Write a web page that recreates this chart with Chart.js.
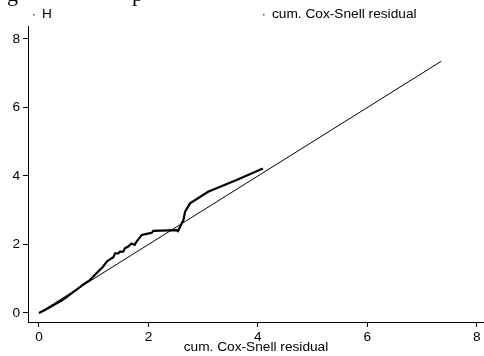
<!DOCTYPE html>
<html lang="en">
<head>
  <meta charset="UTF-8">
  <title>Cox-Snell residuals</title>
  <script src="https://cdn.jsdelivr.net/npm/chart.js"></script>
  <style>
    body { margin: 0; background: #fff; }
    .wrap { width: 484px; height: 356px; position: relative; }
  </style>
</head>
<body>
  <div class="wrap">
    <canvas id="residChart" width="484" height="356"></canvas>
  </div>
  <script>
    // Nelson-Aalen cumulative hazard of the residuals
    const hX = [0, 0.1, 0.2, 0.3, 0.4, 0.5, 0.6, 0.7, 0.8, 0.93, 1.05, 1.17, 1.24, 1.30, 1.36, 1.39, 1.45,
      1.48, 1.54, 1.57, 1.63, 1.69, 1.75, 1.78, 1.88, 1.97, 2.06, 2.09, 2.51, 2.54, 2.64, 2.67, 2.76,
      3.09, 3.61, 4.09];
    const hY = [0, 0.08, 0.17, 0.26, 0.35, 0.46, 0.58, 0.70, 0.82, 0.96, 1.16, 1.35, 1.50, 1.57, 1.63, 1.74, 1.74,
      1.79, 1.79, 1.89, 1.94, 2.03, 1.99, 2.08, 2.28, 2.31, 2.34, 2.40, 2.42, 2.39, 2.72, 2.96, 3.20,
      3.54, 3.88, 4.22];

    // 45 degree reference line
    const csX = [0, 7.35];
    const csY = [0, 7.35];

    const xTicks = [0, 2, 4, 6, 8];
    const yTicks = [0, 2, 4, 6, 8];

    const seriesNames = ['H', 'cum. Cox-Snell residual'];
    const xTitle = 'cum. Cox-Snell residual';

    const FONT = { family: '"Liberation Sans", Arial, sans-serif', size: 13.7 };

    const toPts = (xs, ys) => xs.map((x, i) => ({ x: x, y: ys[i] }));

    // two-column legend above the plot, plus the cut-off caption line at the very top
    const topText = {
      id: 'topText',
      afterDraw(chart) {
        const ctx = chart.ctx;
        ctx.save();
        ctx.fillStyle = '#000';
        ctx.font = '22px "Liberation Serif", "Times New Roman", serif';
        ctx.textBaseline = 'alphabetic';
        ctx.fillText('g', 7, 0.5);
        ctx.fillText('p', 132, 0.5);

        ctx.font = FONT.size + 'px ' + FONT.family;
        ctx.textBaseline = 'middle';
        const cols = [33, 263];
        chart.data.datasets.forEach((ds, i) => {
          ctx.fillStyle = '#555';
          ctx.fillRect(cols[i], 14, 1.5, 1.5);
          ctx.fillStyle = '#000';
          ctx.fillText(ds.label, cols[i] + 9, 14);
        });
        ctx.restore();
      }
    };

    new Chart(document.getElementById('residChart'), {
      type: 'scatter',
      data: {
        datasets: [
          {
            label: seriesNames[0],
            data: toPts(hX, hY),
            showLine: true,
            borderColor: '#000',
            borderWidth: 2.2,
            pointRadius: 0,
            tension: 0
          },
          {
            label: seriesNames[1],
            data: toPts(csX, csY),
            showLine: true,
            borderColor: '#000',
            borderWidth: 1,
            pointRadius: 0,
            tension: 0
          }
        ]
      },
      options: {
        responsive: false,
        animation: false,
        layout: { padding: { top: 26, right: 0, left: 0, bottom: 0 } },
        plugins: {
          legend: { display: false },
          tooltip: { enabled: false }
        },
        scales: {
          x: {
            type: 'linear',
            min: -0.2,
            max: 8.13,
            afterBuildTicks: s => { s.ticks = xTicks.map(v => ({ value: v })); },
            afterFit: s => { s.height = 34; },
            ticks: { color: '#000', font: FONT, padding: 2, maxRotation: 0, autoSkip: false },
            grid: { drawOnChartArea: false, drawTicks: true, tickLength: 5, color: '#000', tickColor: '#000' },
            border: { color: '#000', width: 1 },
            title: { display: true, text: xTitle, color: '#000', font: FONT, padding: { top: 0, bottom: 1 } }
          },
          y: {
            type: 'linear',
            min: -0.263,
            max: 8.379,
            afterBuildTicks: s => { s.ticks = yTicks.map(v => ({ value: v })); },
            afterFit: s => { s.width = 28; },
            ticks: { color: '#000', font: FONT, padding: 3, autoSkip: false },
            grid: { drawOnChartArea: false, drawTicks: true, tickLength: 5, color: '#000', tickColor: '#000' },
            border: { color: '#000', width: 1 }
          }
        }
      },
      plugins: [topText]
    });
  </script>
</body>
</html>
